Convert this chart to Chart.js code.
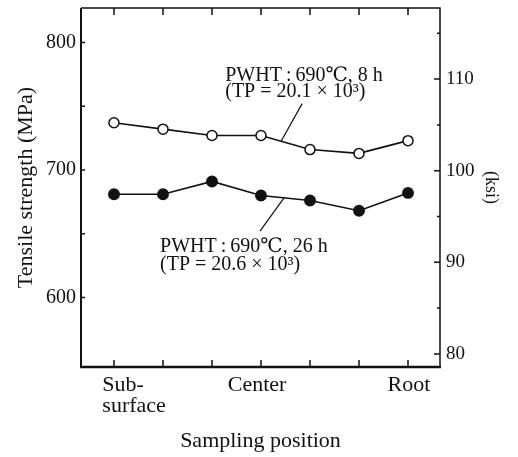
<!DOCTYPE html>
<html>
<head>
<meta charset="utf-8">
<script src="https://cdn.jsdelivr.net/npm/chart.js@4.4.1/dist/chart.umd.min.js"></script>
<style>
    html, body { margin: 0; padding: 0; background: #ffffff; }
    #wrap { width: 518px; height: 457px; }
</style>
</head>
<body>
<div id="wrap"><canvas id="tensileChart"></canvas></div>
<script>
// sampling positions along the weld thickness
const positions = [0, 1, 2, 3, 4, 5, 6];
const pwht8hMPa = [737, 732, 727, 727, 716, 713, 723];
const pwht26hMPa = [681, 681, 691, 680, 676, 668, 682];

const xLabelText = [['Sub-    ', 'surface'], 'Center', 'Root'];
const xLabelAt = [0.41, 2.92, 6.02];
const mpaTicks = [600, 700, 800];
const mpaMinorTicks = [650, 750];
const ksiTicks = [80, 90, 100, 110];
const ksiMinorTicks = [85, 95, 105, 115];

const note8h = ['PWHT\u2009:\u2009690\u2103, 8 h', '(TP = 20.1 \u00d7 10\u00b3)'];
const note26h = ['PWHT\u2009:\u2009690\u2103, 26 h', '(TP = 20.6 \u00d7 10\u00b3)'];

const serif = '"Liberation Serif", "DejaVu Serif", serif';
const ink = '#111111';

function toPoints(values) {
    return values.map(function (v, i) {
        return { x: positions[i], y: v };
    });
}

function lineAt(values, x) {
    const i = Math.floor(x);
    const t = x - i;
    return values[i] + (values[i + 1] - values[i]) * t;
}

function noPadding(axis) {
    axis.paddingTop = 0;
    axis.paddingBottom = 0;
    axis.paddingLeft = 0;
    axis.paddingRight = 0;
}

const framePlugin = {
    id: 'frameAndNotes',
    afterDraw: function (chart) {
        const ctx = chart.ctx;
        const area = chart.chartArea;
        const xs = chart.scales.x;
        const yl = chart.scales.y;
        const yr = chart.scales.y2;

        ctx.save();
        ctx.strokeStyle = ink;
        ctx.lineCap = 'butt';

        // frame
        ctx.lineWidth = 2;
        ctx.beginPath();
        ctx.moveTo(area.left, area.top);
        ctx.lineTo(area.left, area.bottom);
        ctx.stroke();
        ctx.lineWidth = 2.5;
        ctx.beginPath();
        ctx.moveTo(area.left - 1, area.bottom);
        ctx.lineTo(area.right + 1, area.bottom);
        ctx.stroke();
        ctx.lineWidth = 1.5;
        ctx.beginPath();
        ctx.moveTo(area.left, area.top);
        ctx.lineTo(area.right, area.top);
        ctx.lineTo(area.right, area.bottom);
        ctx.stroke();

        // inward tick marks
        ctx.lineWidth = 1.5;
        ctx.beginPath();
        positions.forEach(function (p) {
            const px = xs.getPixelForValue(p);
            ctx.moveTo(px, area.bottom);
            ctx.lineTo(px, area.bottom - 7);
            ctx.moveTo(px, area.top);
            ctx.lineTo(px, area.top + 7);
        });
        mpaTicks.concat(mpaMinorTicks).forEach(function (v) {
            const py = yl.getPixelForValue(v);
            ctx.moveTo(area.left, py);
            ctx.lineTo(area.left + 4, py);
        });
        ksiTicks.forEach(function (v) {
            const py = yr.getPixelForValue(v);
            ctx.moveTo(area.right, py);
            ctx.lineTo(area.right - 6, py);
        });
        ksiMinorTicks.forEach(function (v) {
            const py = yr.getPixelForValue(v);
            ctx.moveTo(area.right, py);
            ctx.lineTo(area.right - 3, py);
        });
        ctx.stroke();

        // leader lines from the labels to the curves
        ctx.lineWidth = 1.2;
        ctx.beginPath();
        ctx.moveTo(xs.getPixelForValue(3.41), yl.getPixelForValue(lineAt(pwht8hMPa, 3.41)));
        ctx.lineTo(xs.getPixelForValue(3.84), yl.getPixelForValue(752));
        ctx.moveTo(xs.getPixelForValue(3.47), yl.getPixelForValue(lineAt(pwht26hMPa, 3.47)));
        ctx.lineTo(xs.getPixelForValue(2.98), yl.getPixelForValue(652));
        ctx.stroke();

        // notes
        ctx.fillStyle = ink;
        ctx.font = '20px ' + serif;
        ctx.textAlign = 'left';
        ctx.textBaseline = 'alphabetic';
        ctx.fillText(note8h[0], xs.getPixelForValue(2.27), yl.getPixelForValue(769.6));
        ctx.fillText(note8h[1], xs.getPixelForValue(2.27), yl.getPixelForValue(757.4));
        ctx.fillText(note26h[0], xs.getPixelForValue(0.94), yl.getPixelForValue(635.6));
        ctx.fillText(note26h[1], xs.getPixelForValue(0.94), yl.getPixelForValue(621.9));
        ctx.restore();
    }
};

const lineStyle = {
    borderColor: ink,
    borderWidth: 1.6,
    pointBorderColor: ink,
    pointBorderWidth: 1.5,
    tension: 0,
    fill: false
};

new Chart(document.getElementById('tensileChart').getContext('2d'), {
    type: 'line',
    data: {
        datasets: [
            Object.assign({
                label: 'PWHT 690\u2103, 8 h',
                data: toPoints(pwht8hMPa),
                pointBackgroundColor: '#ffffff',
                pointRadius: 5
            }, lineStyle),
            Object.assign({
                label: 'PWHT 690\u2103, 26 h',
                data: toPoints(pwht26hMPa),
                pointBackgroundColor: ink,
                pointRadius: 5.2
            }, lineStyle)
        ]
    },
    options: {
        animation: false,
        responsive: true,
        maintainAspectRatio: false,
        devicePixelRatio: 1,
        layout: { padding: { top: 8, left: 0, right: 0, bottom: 0 } },
        plugins: {
            legend: { display: false },
            tooltip: { enabled: false }
        },
        scales: {
            x: {
                type: 'linear',
                min: -0.673,
                max: 6.653,
                grid: { display: false, drawTicks: false },
                border: { display: false },
                afterBuildTicks: function (axis) {
                    axis.ticks = xLabelAt.map(function (v) { return { value: v }; });
                },
                afterFit: function (axis) {
                    axis.height = 90;
                    noPadding(axis);
                },
                ticks: {
                    autoSkip: false,
                    maxRotation: 0,
                    padding: 8,
                    color: ink,
                    font: { family: serif, size: 22, lineHeight: 0.95 },
                    callback: function (value, index) {
                        return xLabelText[index];
                    }
                },
                title: {
                    display: true,
                    text: 'Sampling position',
                    color: ink,
                    font: { family: serif, size: 22 },
                    padding: { top: 0, bottom: 3 }
                }
            },
            y: {
                type: 'linear',
                position: 'left',
                min: 545.5,
                max: 827,
                grid: { display: false, drawTicks: false },
                border: { display: false },
                afterBuildTicks: function (axis) {
                    axis.ticks = mpaTicks.map(function (v) { return { value: v }; });
                },
                afterFit: function (axis) {
                    axis.width = 81;
                    noPadding(axis);
                },
                ticks: {
                    padding: 5,
                    color: ink,
                    font: { family: serif, size: 20 }
                },
                title: {
                    display: true,
                    text: 'Tensile strength (MPa)',
                    color: ink,
                    font: { family: serif, size: 22 },
                    padding: { top: 13, bottom: 0 }
                }
            },
            y2: {
                type: 'linear',
                position: 'right',
                min: 78.57,
                max: 117.76,
                grid: { display: false, drawTicks: false },
                border: { display: false },
                afterBuildTicks: function (axis) {
                    axis.ticks = ksiTicks.map(function (v) { return { value: v }; });
                },
                afterFit: function (axis) {
                    axis.width = 78;
                    noPadding(axis);
                },
                ticks: {
                    padding: 6,
                    color: ink,
                    font: { family: serif, size: 19 }
                },
                title: {
                    display: true,
                    text: '(ksi)',
                    color: ink,
                    font: { family: serif, size: 18 },
                    padding: { top: 16, bottom: 0 }
                }
            }
        }
    },
    plugins: [framePlugin]
});
</script>
</body>
</html>
